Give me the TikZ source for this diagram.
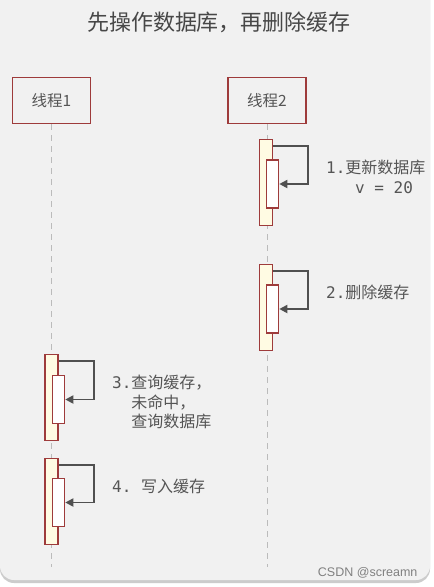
\documentclass[tikz,border=0pt]{standalone}
\usepackage{fontspec}
\usetikzlibrary{arrows.meta,shadows}
\newfontfamily\cjk{Noto Sans CJK SC}
\newfontfamily\monof{DejaVu Sans Mono}
\newfontfamily\wmfont{Liberation Sans}
\definecolor{panelgray}{HTML}{F1F1F1}
\definecolor{boxred}{HTML}{9E3B3B}
\definecolor{actfill}{HTML}{FFFBE3}
\definecolor{textgray}{HTML}{555555}
\definecolor{linegray}{HTML}{BBBBBB}
\definecolor{arrowgray}{HTML}{505050}
\newcommand{\mn}[1]{{\monof #1}}

\tikzset{
  thread/.style={draw=boxred,line width=1.8pt,fill=panelgray,minimum width=78pt,
    minimum height=46pt,font=\cjk\fontsize{15.5}{18}\selectfont,text=textgray},
  actouter/.style={draw=boxred,line width=1.6pt,fill=actfill,minimum width=13pt,
    minimum height=86pt,inner sep=0pt},
  actinner/.style={draw=boxred,line width=1.6pt,fill=white,minimum width=12pt,
    minimum height=48pt,inner sep=0pt},
  lifeline/.style={linegray,line width=1pt,dash pattern=on 6pt off 5pt},
  selfmsg/.style={arrowgray,line width=1.8pt,-{Triangle[length=8pt,width=8pt]}},
  msglabel/.style={anchor=north west,inner sep=0pt,align=left,text=textgray,
    font=\cjk\fontsize{16}{19.5}\selectfont},
}

\begin{document}
\begin{tikzpicture}[x=1pt,y=-1pt]
\useasboundingbox (0,0) rectangle (434,587);
\fill[white] (0,0) rectangle (434,587);
\fill[panelgray,rounded corners=14pt,
  drop shadow={shadow xshift=0pt,shadow yshift=-3pt,opacity=0.4}] (0,-20) rectangle (430,580);

% title
\node[font=\cjk\fontsize{22}{26}\selectfont,text=black!72] (title) at (219,22) {先操作数据库，再删除缓存};

% threads
\node[thread] (t1) at (51.5,100.5) {线程1};
\node[thread] (t2) at (267,100.5) {线程2};
\coordinate (e1) at (t1.south |- 0,567);
\coordinate (e2) at (t2.south |- 0,567);
\draw[lifeline] (t1.south) -- (e1);
\draw[lifeline] (t2.south) -- (e2);

% thread 2
\node[actouter] (a1) at (266,182.5) {};
\node[actinner] (b1) at (272.5,184) {};
\draw[selfmsg] ([yshift=-7.5pt]a1.north east) -| ([xshift=29pt]b1.east) -- (b1.east);
\node[msglabel] (m1) at (326,160) {\mn{1.}更新数据库\\\mn{\hphantom{1.\ }v = 20}};

\node[actouter] (a2) at (266,307.5) {};
\node[actinner] (b2) at (272.5,309) {};
\draw[selfmsg] ([yshift=-7.5pt]a2.north east) -| ([xshift=29pt]b2.east) -- (b2.east);
\node[msglabel] (m2) at (326,285) {\mn{2.}删除缓存};

% thread 1
\node[actouter] (a3) at (51.5,397.5) {};
\node[actinner] (b3) at (58.5,399.5) {};
\draw[selfmsg] ([yshift=-7.5pt]a3.north east) -| ([xshift=28.5pt]b3.east) -- (b3.east);
\node[msglabel] (m3) at (112,375) {\mn{3.}查询缓存，\\\mn{\hphantom{3.}}未命中，\\\mn{\hphantom{3.}}查询数据库};

\node[actouter] (a4) at (51.5,501.5) {};
\node[actinner] (b4) at (58.5,502.5) {};
\draw[selfmsg] ([yshift=-7.5pt]a4.north east) -| ([xshift=28.5pt]b4.east) -- (b4.east);
\node[msglabel] (m4) at (112,479) {\mn{4.\ }写入缓存};

\node[font=\wmfont\fontsize{12.5}{14}\selectfont,text=black!50,anchor=east] (wm) at (421,573) {CSDN @screamn};
\end{tikzpicture}
\end{document}
